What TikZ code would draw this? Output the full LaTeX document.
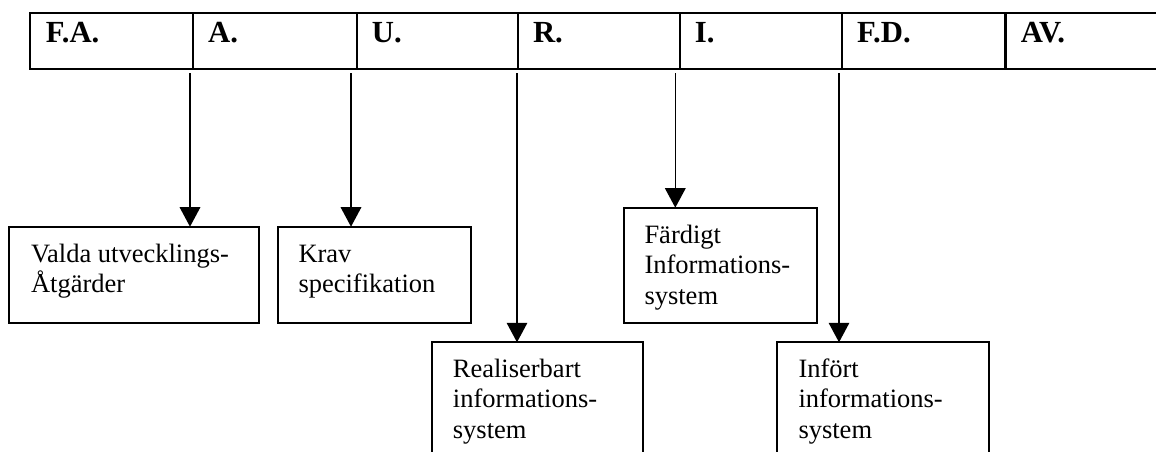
\documentclass[tikz,border=0pt]{standalone}
\usepackage{fontspec}
\setmainfont{Liberation Serif}
\usetikzlibrary{arrows.meta,calc}
\begin{document}
\begin{tikzpicture}[x=1pt,y=-1pt,
  cell/.style={draw, line width=2.3pt, minimum width=#1, minimum height=56.6pt,
    inner sep=0pt, outer sep=0pt, anchor=north west},
  head/.style={anchor=base west, inner sep=0pt,
    font=\fontsize{30.7}{36}\selectfont\bfseries},
  stepbox/.style={draw, line width=1.7pt, inner sep=0pt, outer sep=0pt,
    anchor=north west},
  boxtext/.style={anchor=base west, inner sep=0pt,
    font=\fontsize{26.5}{30.6}\selectfont},
  arr/.style={line width=1.6pt, -{Triangle[width=20.5pt,length=19.5pt]}}]

\useasboundingbox (0,0) rectangle (1156,452);
\clip (0,0) rectangle (1156,452);

% phase row
\node[cell=163pt]   (c1) at (30,12.7) {};
\node[cell=163.7pt] (c2) at (193,12.7) {};
\node[cell=161.1pt] (c3) at (356.7,12.7) {};
\node[cell=161.9pt] (c4) at (517.8,12.7) {};
\node[cell=162.3pt] (c5) at (679.7,12.7) {};
\node[cell=163.6pt] (c6) at (842,12.7) {};
\node[cell=163pt]   (c7) at (1005.6,12.7) {};

\node[head] (h1) at ($(c1.north west)+(15.7,30)$) {F.A.};
\node[head] (h2) at ($(c2.north west)+(15,30)$) {A.};
\node[head] (h3) at ($(c3.north west)+(15,30)$) {U.};
\node[head] (h4) at ($(c4.north west)+(15,30)$) {R.};
\node[head] (h5) at ($(c5.north west)+(15,30)$) {I.};
\node[head] (h6) at ($(c6.north west)+(15,30)$) {F.D.};
\node[head] (h7) at ($(c7.north west)+(15,30)$) {AV.};

% result boxes
\node[stepbox, minimum width=250pt, minimum height=96pt] (b1) at (9.3,226.7) {};
\node[stepbox, minimum width=192.4pt, minimum height=96pt] (b2) at (278.3,226.7) {};
\node[stepbox, minimum width=211pt, minimum height=150pt] (b3) at (432.3,342.3) {};
\node[stepbox, minimum width=192.7pt, minimum height=115.6pt] (b4) at (624,207.7) {};
\node[stepbox, minimum width=212pt, minimum height=150pt] (b5) at (777.3,342.3) {};

\node[boxtext] (t1) at ($(b1.north west)+(21.5,35.3)$)
  {\vtop{\hbox{Valda utvecklings-}\hbox{Åtgärder}}};
\node[boxtext] (t2) at ($(b2.north west)+(20,35.3)$)
  {\vtop{\hbox{Krav}\hbox{specifikation}}};
\node[boxtext] (t3) at ($(b3.north west)+(20.4,35)$)
  {\vtop{\hbox{Realiserbart}\hbox{informations-}\hbox{system}}};
\node[boxtext] (t4) at ($(b4.north west)+(20.3,35.6)$)
  {\vtop{\hbox{Färdigt}\hbox{Informations-}\hbox{system}}};
\node[boxtext] (t5) at ($(b5.north west)+(21,35)$)
  {\vtop{\hbox{Infört}\hbox{informations-}\hbox{system}}};

% connectors from the phases down to their results
\coordinate (s1) at (190,73.3);
\coordinate (s2) at (351,73.3);
\coordinate (s3) at (517,73.3);
\coordinate (s4) at (675.3,73.3);
\coordinate (s5) at (839,73.3);

\draw[arr] (s1) -- (s1 |- b1.north);
\draw[arr] (s2) -- (s2 |- b2.north);
\draw[arr] (s3) -- (s3 |- b3.north);
\draw[arr] (s4) -- (s4 |- b4.north);
\draw[arr] (s5) -- (s5 |- b5.north);
\end{tikzpicture}
\end{document}
